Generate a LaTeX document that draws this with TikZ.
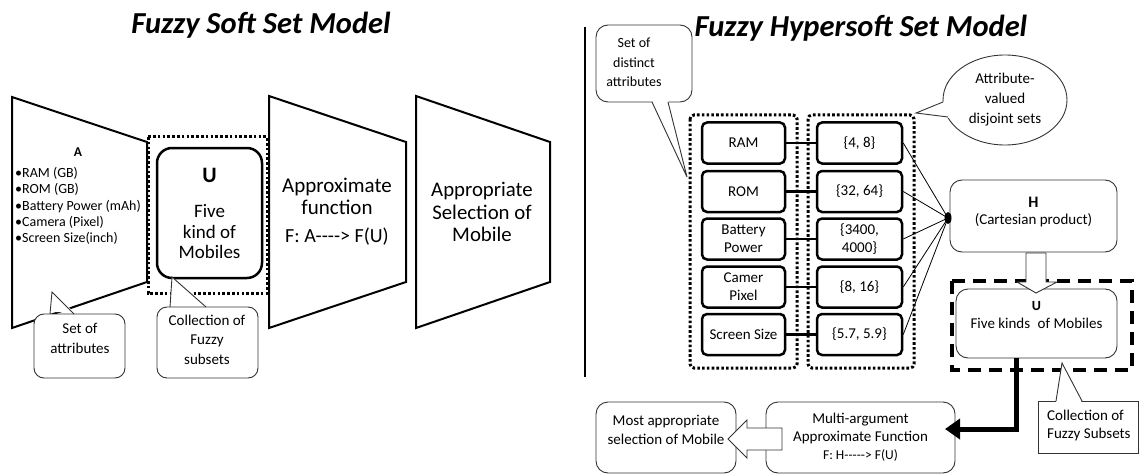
\documentclass[tikz,border=0pt]{standalone}
\usepackage{fontspec}
\setmainfont{Carlito}
\newfontfamily\nolig{Carlito}
\usetikzlibrary{arrows.meta,shapes.geometric}
\newcommand\fsz[2]{\fontsize{#1}{#2}\selectfont}
\newcommand\hy{-\kern0pt}
\begin{document}
\begin{tikzpicture}[x=1pt,y=-1pt,
  trap/.style={draw=black,line width=2pt,line join=miter,fill=white},
  txt/.style={inner sep=0pt,align=center},
  titletxt/.style={inner sep=0pt,font=\fsz{30.5}{34}\bfseries\itshape},
  abox/.style={draw=black,line width=2.5pt,rounded corners=5pt,minimum width=83pt,minimum height=41pt,inner sep=0pt,align=center,font=\fsz{15}{18}},
  vbox/.style={abox,minimum width=85pt},
  dotbox/.style={draw=black,line width=3pt,dash pattern=on 2.6pt off 2.2pt,rounded corners=4pt},
  thinbox/.style={draw=black!80,line width=0.9pt,rounded corners=12pt,fill=white},
  callout/.style={draw=black!80,line width=0.9pt,fill=white,rounded corners=10pt},
  ptr/.style={draw=black!80,line width=0.9pt,line join=miter},
  link/.style={draw=black,line width=2.5pt},
  thin link/.style={draw=black,line width=0.8pt},
]
\useasboundingbox (0,0) rectangle (1140,476);

% ---------------- titles ----------------
\node[titletxt] (t1) at (261,25) {Fuzzy Soft Set Model};

% ---------------- left panel ----------------
\draw[trap] (12,97) -- (147,142) -- (147,282) -- (12,328) -- cycle;
\node[txt,font=\fsz{13.5}{15}\bfseries] (Alab) at (78,152) {A};
\node[inner sep=0pt,align=left,anchor=west,font=\fsz{14}{16.2}] (Alist) at (15,206)
  {•RAM (GB)\\•ROM (GB)\\•Battery Power (mAh)\\•Camera (Pixel)\\•Screen Size(inch)};

\draw[dotbox,rounded corners=0pt] (148,137) rectangle (267,293);
\node[draw=black,line width=2.5pt,rounded corners=15pt,minimum width=105pt,minimum height=130pt] (Ubox) at (209.5,213) {};
\node[txt,font=\fsz{22}{24}\bfseries] (Ulab) at (209.5,175) {U};
\node[txt,font=\fsz{19}{20.5}] (Utxt) at (209.5,232) {Five\\kind of\\Mobiles};

\draw[trap] (269,96) -- (406,142) -- (406,282) -- (269,328) -- cycle;
\node[txt,font=\fsz{21}{22}] (aptxt) at (337,196) {Approximate\\function};
\node[txt,font=\fsz{20}{22}] (apf) at (337,237) {\nolig F: A\hy\hy\hy\hy> F(U)};

\draw[trap] (416,96) -- (550,142) -- (550,282) -- (416,328) -- cycle;
\node[txt,font=\fsz{20.8}{22.5}] (sel) at (482,212) {Appropriate\\Selection of\\Mobile};

% callout: set of attributes
\draw[callout] (34,314) rectangle (125,378);
\fill[white] (50,312) -- (52,292) -- (74,312) -- cycle;
\draw[ptr] (50,314) -- (52,292) -- (74,314);
\node[txt,font=\fsz{15}{19.5}] (c1) at (80,338.5) {Set of\\attributes};

% callout: collection of fuzzy subsets
\draw[callout] (157,307) rectangle (258,378);
\fill[white] (170,305) -- (172,277) -- (206,305) -- cycle;
\draw[ptr] (170,307) -- (172,277) -- (206,307);
\node[txt,font=\fsz{15}{19.5}] (c2) at (207,339.5) {Collection of\\Fuzzy\\subsets};

% separator
\draw[line width=2pt] (585,27) -- (585,377);

% ---------------- right panel ----------------
% callout: distinct attributes
\draw[callout,rounded corners=12pt] (596,25) rectangle (692,102);
\fill[white] (652,100) -- (687,177) -- (668,100) -- cycle;
\draw[ptr] (652,102) -- (687,177) -- (668,102);
\node[txt,font=\fsz{14}{19.5}] (c3) at (634,62.5) {Set of\\distinct\\attributes};

\node[titletxt] (t2) at (861,28) {Fuzzy Hypersoft Set Model};

% dotted groups
\draw[dotbox] (690,115) rectangle (797,368);
\draw[dotbox] (808,115) rectangle (914,368);

% attribute boxes
\node[abox] (ram) at (743.5,143) {RAM};
\node[abox] (rom) at (743.5,191.5) {ROM};
\node[abox] (bat) at (743.5,239) {Battery\\Power};
\node[abox] (cam) at (743.5,287) {Camer\\Pixel};
\node[abox] (scr) at (743.5,334.5) {Screen Size};

% value boxes
\node[vbox] (v1) at (859.5,143) {\{4, 8\}};
\node[vbox] (v2) at (859.5,191.5) {\{32, 64\}};
\node[vbox] (v3) at (859.5,239) {\{3400,\\4000\}};
\node[vbox] (v4) at (859.5,287) {\{8, 16\}};
\node[vbox] (v5) at (859.5,334.5) {\{5.7, 5.9\}};

\foreach \a/\b in {ram/v1,rom/v2,bat/v3,cam/v4,scr/v5}
  \draw[link] (\a.east) -- (\b.west);

% callout ellipse
\node[draw=black!80,line width=0.9pt,fill=white,ellipse,minimum width=124pt,minimum height=90pt] (ell) at (1005,100) {};
\fill[white] (945,101) -- (916,113) -- (950,118) -- cycle;
\draw[ptr] (943,102) -- (916,113) -- (948,117);
\node[txt,font=\fsz{15}{20}] (c4) at (1005,100) {Attribute-\\valued\\disjoint sets};

% H box
\node[thinbox,minimum width=167pt,minimum height=72pt] (H) at (1033.5,216) {};
\node[txt,font=\fsz{16}{18}\bfseries] (Hlab) at (1033.5,202) {H};
\node[txt,font=\fsz{15}{18}] (Htxt) at (1033.5,220) {(Cartesian product)};

\coordinate (hp) at (948,218);
\foreach \v in {v1,v2,v3,v4,v5}
  \draw[thin link] (\v.east) -- (hp);
\fill[black] (hp) ellipse (3.5pt and 6pt);

% dashed group and U box
\draw[draw=black,line width=3.5pt,dash pattern=on 13pt off 8pt] (952,281) rectangle (1132,370);
\node[thinbox,minimum width=161pt,minimum height=69pt] (U2) at (1036.5,323.5) {};
\node[txt,font=\fsz{14}{16}\bfseries] (U2lab) at (1036.5,306) {U};
\node[txt,font=\fsz{15}{18}] (U2txt) at (1036.5,323) {Five kinds\hspace{0.5em}of Mobiles};

% hollow block arrow H -> U
\draw[ptr,fill=white] (1026,253) -- (1046,253) -- (1046,282) -- (1057,282) -- (1036,293) -- (1017,282) -- (1026,282) -- cycle;

% bottom boxes
\node[thinbox,minimum width=140pt,minimum height=71pt] (most) at (666,437.5) {};
\node[txt,font=\fsz{15}{19}] (mosttxt) at (666,429.5) {Most appropriate\\selection of Mobile};
\node[thinbox,minimum width=189pt,minimum height=71pt] (multi) at (860.5,437.5) {};
\node[txt,font=\fsz{15}{18}] (multitxt) at (860.5,428) {Multi-argument\\Approximate Function};
\node[txt,font=\fsz{13.5}{16}] (multif) at (860.5,455) {\nolig F: H\hy\hy\hy\hy\hy> F(U)};

% thick arrow U -> multi
\coordinate (bend) at (1016,429);
\draw[line width=5pt,-{Triangle[length=15pt,width=20pt]}] (1016,358) -- (bend) -- (945,429);

% hollow block arrow multi -> most
\draw[ptr,fill=white] (782,428) -- (747,428) -- (747,420) -- (728,439) -- (747,458) -- (747,450) -- (782,450) -- cycle;

% callout: collection of fuzzy subsets (right)
\draw[callout,rounded corners=0pt] (1038,401) rectangle (1138,453);
\fill[white] (1056,403) -- (1062,363) -- (1082,403) -- cycle;
\draw[ptr] (1056,401) -- (1062,363) -- (1082,401);
\node[inner sep=0pt,align=left,anchor=west,font=\fsz{15}{18}] (c5) at (1047,425) {Collection of\\Fuzzy Subsets};
\end{tikzpicture}
\end{document}
